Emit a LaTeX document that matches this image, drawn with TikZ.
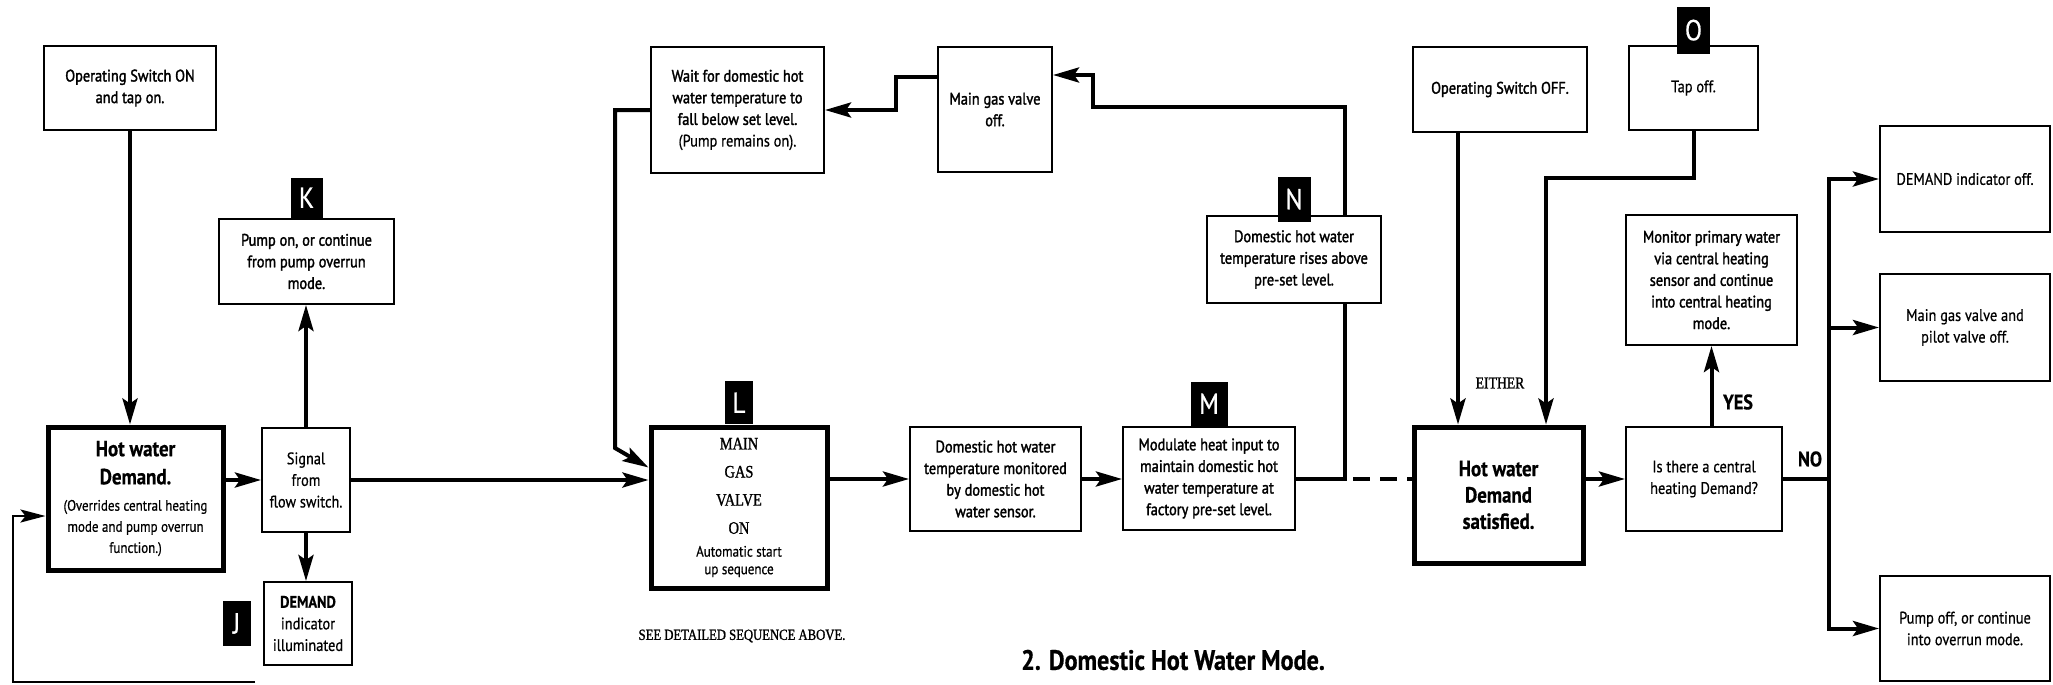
\documentclass[tikz,border=0pt]{standalone}
\usepackage{fontspec}
\setmainfont{PT Sans}[FakeStretch=0.86,FakeBold=0.6]
\newfontfamily\medfont{PT Sans}[FakeStretch=0.86,FakeBold=1.8]
\newfontfamily\capfont{Liberation Serif}[FakeStretch=0.82,FakeBold=1.2]
\newcommand\bighead{\bfseries\fontsize{12.5}{15}\selectfont}
\newcommand\smallnote{\rmfamily\mdseries\fontsize{8.6}{12}\selectfont}
\newcommand\valvecaps{\capfont\fontsize{10}{12}\selectfont}
\usetikzlibrary{arrows.meta,positioning}

\begin{document}
\begin{tikzpicture}[
  x=0.2mm, y=-0.2mm,
  sz/.style 2 args={minimum width=#1*0.2mm, minimum height=#2*0.2mm},
  stepbox/.style={
    draw,
    fill=white,
    line width=0.4mm,
    inner sep=0pt,
    align=center,
    font=\medfont\fontsize{9.5}{12.3}\selectfont
  },
  plainbox/.style={stepbox, font=\fontsize{9.5}{12.3}\selectfont},
  demandbox/.style={stepbox, line width=1mm},
  tagbox/.style={fill=black, text=white, inner sep=0pt, font=\fontsize{16.5}{16.5}\selectfont},
  flow/.style={line width=0.8mm, -{Stealth[length=5.2mm,width=3mm,inset=1mm]}},
  link/.style={line width=0.8mm},
  feedback/.style={line width=0.5mm, -{Stealth[length=5mm,width=2.6mm,inset=1mm]}},
  answer/.style={font=\bfseries\fontsize{12}{14}\selectfont},
  remark/.style={font=\capfont\fontsize{9.5}{11}\selectfont}
]
\useasboundingbox (0,0) rectangle (2053,685);

\node[stepbox, sz={172}{84}] (opon) at (130,88) {Operating Switch ON\\and tap on.};
\node[demandbox, sz={175}{143}, font=\smallnote] (hwd) at (135.5,498.5) {\bighead Hot water\\[4pt]\bighead Demand.\\[3pt]\smallnote (Overrides central heating\\\smallnote mode and pump overrun\\\smallnote function.)};
\node[plainbox, sz={88}{104}] (sig) at (306,480) {Signal\\from\\flow switch.};
\node[stepbox, sz={175}{85}] (pump) at (306.5,261.5) {Pump on, or continue\\from pump overrun\\mode.};
\node[tagbox, sz={32}{40}, above=0pt of pump] (tagK) {K};
\node[plainbox, sz={88}{83}] (dind) at (308,623.5) {\bfseries DEMAND\\\mdseries indicator\\\mdseries illuminated};
\node[tagbox, sz={28}{45}, left=2.4mm of dind] (tagJ) {J};

\node[stepbox, sz={173}{126}] (wait) at (737.5,110) {Wait for domestic hot\\water temperature to\\fall below set level.\\\rmfamily (Pump remains on).};
\node[stepbox, sz={114}{125}] (mgv) at (995,109.5) {Main gas valve\\off.};
\node[demandbox, sz={176}{161}, font=\smallnote] (lbox) at (739,507.5) {\valvecaps MAIN\\[4pt]\valvecaps GAS\\[4pt]\valvecaps VALVE\\[4pt]\valvecaps ON\\[1pt]\smallnote Automatic start\\[-2pt]\smallnote up sequence};
\node[tagbox, sz={28}{43}, above=0pt of lbox] (tagL) {L};
\node[stepbox, sz={171}{104}] (dhwm) at (995.5,479) {Domestic hot water\\temperature monitored\\by domestic hot\\water sensor.};
\node[stepbox, sz={172}{103}] (mod) at (1209,478.5) {Modulate heat input to\\maintain domestic hot\\water temperature at\\factory pre-set level.};
\node[tagbox, sz={37}{44}, above=0pt of mod] (tagM) {M};

\node[stepbox, sz={174}{85}] (opoff) at (1500,89.5) {Operating Switch OFF.};
\node[plainbox, sz={129}{84}] (tapoff) at (1693.5,88) {Tap off.};
\node[tagbox, sz={33}{47}, above=-1.8mm of tapoff] (tagO) {O};
\node[demandbox, sz={169}{136}, font=\bighead] (hws) at (1498.5,495) {Hot water\\Demand\\satisfied.};
\node[plainbox, sz={156}{104}] (isch) at (1704,479) {Is there a central\\heating Demand?};
\node[stepbox, sz={171}{130}] (monitor) at (1711.5,280) {Monitor primary water\\via central heating\\sensor and continue\\into central heating\\mode.};
\node[plainbox, sz={170}{106}] (doff) at (1965,179) {DEMAND indicator off.};
\node[plainbox, sz={170}{107}] (mgpoff) at (1965,327.5) {Main gas valve and\\pilot valve off.};
\node[plainbox, sz={170}{105}] (pumpoff) at (1965,628.5) {Pump off, or continue\\into overrun mode.};

\node[remark] (either) at (1500,383) {EITHER};
\node[remark, font=\capfont\fontsize{8.8}{10}\selectfont] (seeabove) at (742,636) {SEE DETAILED SEQUENCE ABOVE.};
\node[font=\bfseries\fontsize{16}{18}\selectfont] (title) at (1173,660) {2. Domestic Hot Water Mode.};
\node[answer] (yes) at (1738,402) {YES};
\node[answer] (no) at (1810,459) {NO};

\coordinate (fbend) at (255,682);
\coordinate (topjog) at (1093,107);

\draw[flow] (opon.south) -- (opon.south |- hwd.north);
\draw[flow] (hwd.east |- sig.west) -- (sig.west);
\draw[flow] (sig.north) -- (sig.north |- pump.south);
\draw[flow] (sig.south) -- (sig.south |- dind.north);
\draw[flow] (sig.east) -- (sig.east -| lbox.west);
\draw[feedback] (fbend) -- ++(-242,0) |- ([yshift=-3.5mm]hwd.west);
\draw[flow] (wait.west) -- ++(-35,0) -- ++(0,338) -- ([yshift=8mm]lbox.west);
\draw[flow] ([yshift=6.5mm]mgv.west) -- ++(-41,0) |- (wait.east);
\draw[flow] (lbox.east |- dhwm.west) -- (dhwm.west);
\draw[flow] (dhwm.east) -- (dhwm.east -| mod.west);
\draw[flow] (mod.east) -- ++(49,0) coordinate (riser) |- (topjog) |- ([yshift=6.9mm]mgv.east);
\draw[link, dash pattern=on 3.4mm off 2mm] ([xshift=1.6mm]riser) -- (riser -| hws.west);

\node[stepbox, sz={174}{87}] (nbox) at (1294,259.5) {Domestic hot water\\temperature rises above\\pre-set level.};
\node[tagbox, sz={33}{45}, above=-1.4mm of nbox] (tagN) {N};

\draw[flow] ([xshift=-8.4mm]opoff.south) -- ([xshift=-8.4mm]opoff.south |- hws.north);
\draw[flow] (tapoff.south) -- ++(0,47) -| ([xshift=9.5mm]hws.north);
\draw[flow] (isch.west -| hws.east) -- (isch.west);
\draw[flow] (monitor.south |- isch.north) -- (monitor.south);
\draw[link] (isch.east) -- ++(46,0) coordinate (fork);
\draw[flow] (fork) |- (doff.west);
\draw[flow] (fork) |- (mgpoff.west);
\draw[flow] (fork) |- (pumpoff.west);

\end{tikzpicture}
\end{document}
